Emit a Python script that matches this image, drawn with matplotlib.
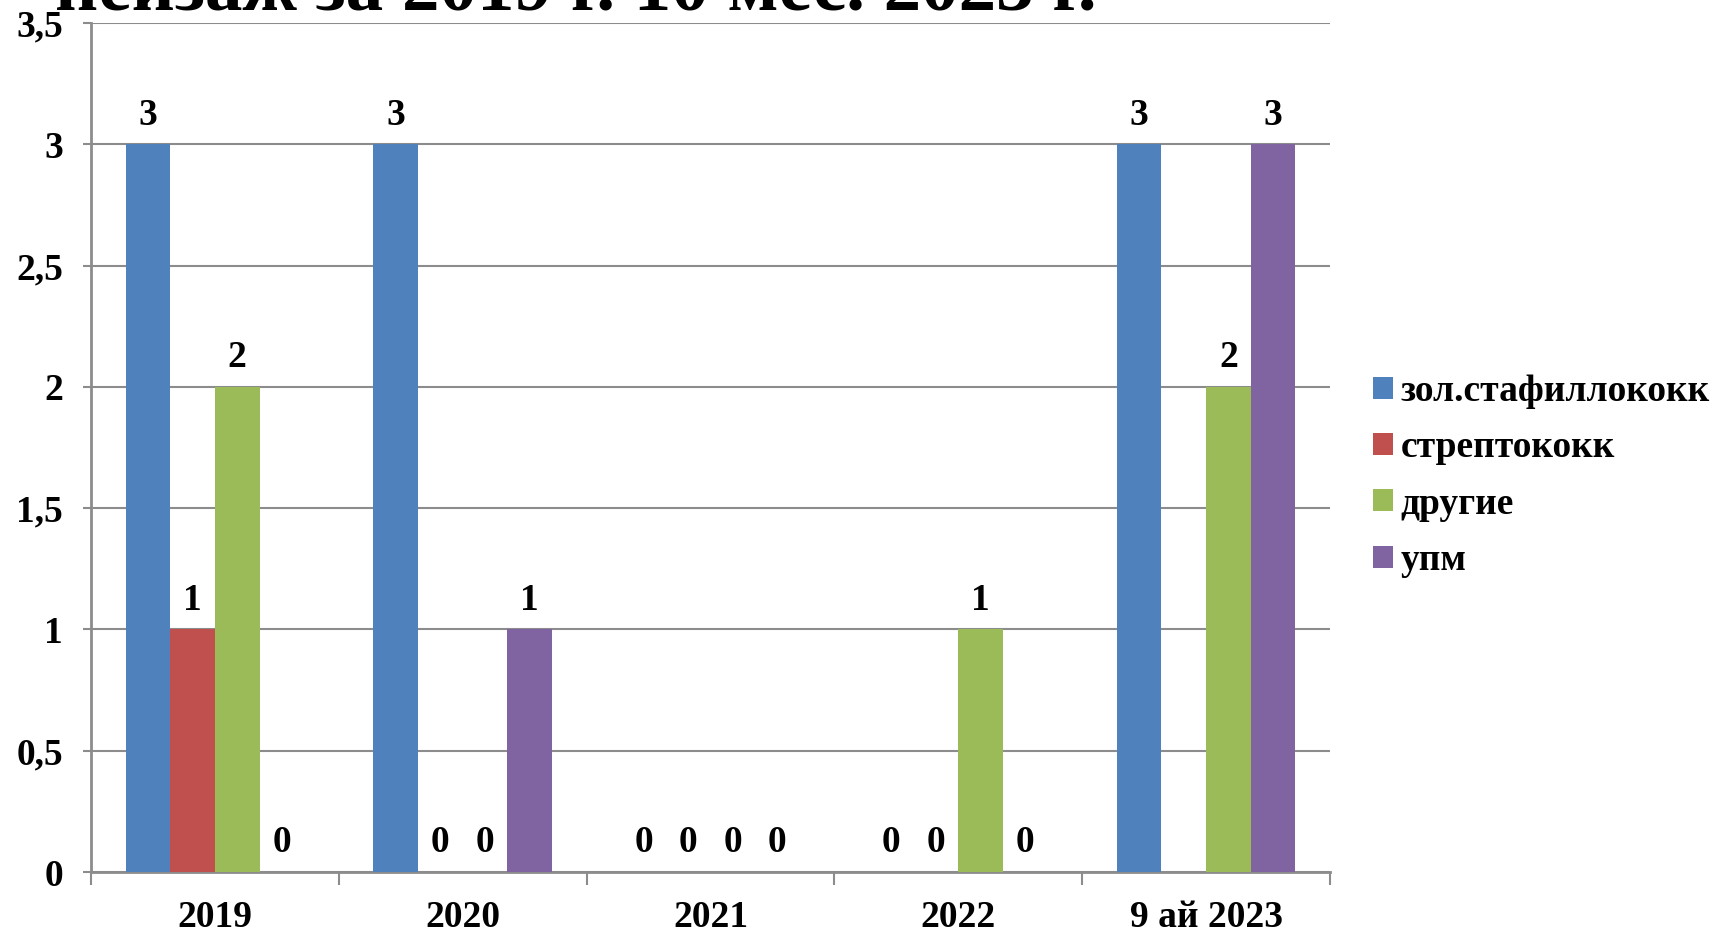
import numpy as np
import matplotlib
matplotlib.use("Agg")
import matplotlib.pyplot as plt
from matplotlib.ticker import FixedLocator, FuncFormatter

plt.rcParams['font.family'] = ['Liberation Serif', 'DejaVu Serif']
plt.rcParams['font.weight'] = 'bold'

categories = ["2019", "2020", "2021", "2022", "9 ай 2023"]
series_names = ["зол.стафиллококк", "стрептококк", "другие", "упм"]
staph = [3, 3, 0, 0, 3]
strep = [1, 0, 0, 0, np.nan]
other = [2, 0, 0, 1, 2]
upm = [0, 1, 0, 0, 3]
series_values = [staph, strep, other, upm]
colors = ["#4F81BD", "#C0504D", "#9BBB59", "#8064A2"]
title_text = "пейзаж за 2019 г. 10 мес. 2023 г."

W, H = 1713, 934
fig = plt.figure(figsize=(W / 100, H / 100), dpi=100)
ax = fig.add_axes([91 / W, 1 - 872 / H, (1330 - 91) / W, (872 - 23) / H])

n = len(series_names)
bar_w = 0.18
x = np.arange(len(categories))
grid_c = "#8C8C8C"
fs = 27

for i, (name, vals, c) in enumerate(zip(series_names, series_values, colors)):
    pos = x + (i - (n - 1) / 2) * bar_w
    v = np.array(vals, dtype=float)
    ax.bar(pos, np.nan_to_num(v), width=bar_w, color=c, label=name, zorder=3)
    for px, val in zip(pos, v):
        if np.isnan(val):
            continue
        ax.annotate(f"{int(val)}", (px, val), xytext=(0, 21), textcoords="offset points",
                    ha="center", va="center", fontsize=fs, fontweight="bold", zorder=4)

ax.set_xlim(-0.5, len(categories) - 0.5)
ax.set_ylim(0, 3.5)
yt = np.arange(0, 3.51, 0.5)
ax.set_yticks(yt)
ax.yaxis.set_major_formatter(FuncFormatter(lambda v, p: (f"{v:g}").replace(".", ",")))
ax.grid(axis="y", color=grid_c, linewidth=1.5, zorder=0)
ax.set_xticks(x)
ax.set_xticklabels(categories)
ax.xaxis.set_minor_locator(FixedLocator(np.arange(-0.5, len(categories), 1.0)))
ax.tick_params(axis="x", which="major", length=0, pad=20, labelsize=fs)
ax.tick_params(axis="x", which="minor", length=9, width=1.5, color=grid_c)
ax.tick_params(axis="y", length=6, width=1.5, color=grid_c, labelsize=fs, pad=14)
for lab in ax.get_xticklabels() + ax.get_yticklabels():
    lab.set_fontweight("bold")

for s in ["top", "right"]:
    ax.spines[s].set_visible(False)
for s in ["left", "bottom"]:
    ax.spines[s].set_color(grid_c)
    ax.spines[s].set_linewidth(2)

leg = fig.legend(loc="center left", bbox_to_anchor=(1373 / W, 1 - 476 / H), frameon=False,
                 prop={"size": 27, "weight": "bold"}, handlelength=0.52, handleheight=0.52,
                 handletextpad=0.21, labelspacing=0.57, borderpad=0, borderaxespad=0)

fig.text(55 / W, 1 - 9 / H, title_text, fontsize=54, fontweight="bold", ha="left", va="baseline")

fig.savefig("out.png", dpi=100)
